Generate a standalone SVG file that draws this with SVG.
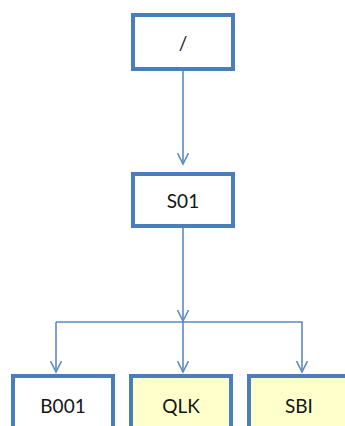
<svg xmlns="http://www.w3.org/2000/svg" width="345" height="426" viewBox="0 0 345 426">
  <style>
    .box { fill: #ffffff; stroke: #4a7ebb; stroke-width: 4; }
    .box.hl { fill: #ffffcc; }
    .lbl { font-family: Lato, "Liberation Sans", sans-serif; font-size: 19px; fill: #141414; text-anchor: middle; dominant-baseline: central; }
    .wire { fill: none; stroke: #5b8ac6; stroke-width: 1.6; }
  </style>
  <defs>
    <marker id="arrow" viewBox="0 0 14 12" refX="12" refY="6" markerWidth="14" markerHeight="12" markerUnits="userSpaceOnUse" orient="auto">
      <path d="M1,0.5 L12,6 L1,11.5" fill="none" stroke="#5b8ac6" stroke-width="1.6"/>
    </marker>
  </defs>
  <rect width="345" height="426" fill="#ffffff"/>

  <g id="connectors">
    <path class="wire" d="M183,71 V164" marker-end="url(#arrow)"/>
    <path class="wire" d="M183,228 V321" marker-end="url(#arrow)"/>
    <path class="wire" d="M56,322 H302 V372" marker-end="url(#arrow)"/>
    <path class="wire" d="M56,322 V372" marker-end="url(#arrow)"/>
    <path class="wire" d="M183,321 V372" marker-end="url(#arrow)"/>
  </g>

  <g id="root">
    <rect class="box" x="133" y="15" width="100" height="54"/>
    <text class="lbl" x="183" y="42">/</text>
  </g>
  <g id="S01">
    <rect class="box" x="133" y="174" width="100" height="52"/>
    <text class="lbl" x="183" y="200">S01</text>
  </g>
  <g id="B001">
    <rect class="box" x="13" y="376" width="100" height="70"/>
    <text class="lbl" x="63" y="405">B001</text>
  </g>
  <g id="QLK">
    <rect class="box hl" x="131" y="376" width="100" height="70"/>
    <text class="lbl" x="181" y="405">QLK</text>
  </g>
  <g id="SBI">
    <rect class="box hl" x="249" y="376" width="100" height="70"/>
    <text class="lbl" x="299" y="405">SBI</text>
  </g>
</svg>
